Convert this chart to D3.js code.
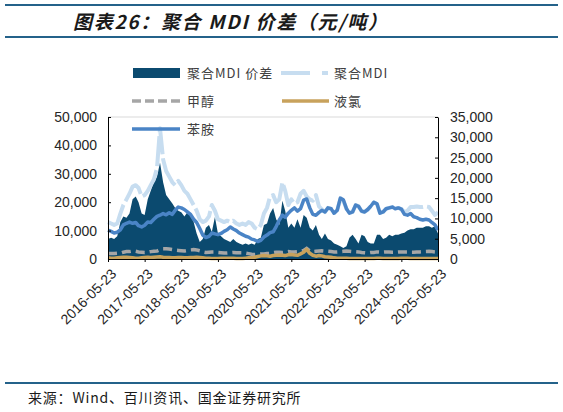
<!DOCTYPE html>
<html>
<head>
<meta charset="utf-8">
<script src="https://cdn.jsdelivr.net/npm/d3@7/dist/d3.min.js"></script>
<style>
  body { margin: 0; background: #fff; }
  svg { display: block; }
</style>
</head>
<body>
<svg id="chart" width="563" height="412"></svg>
<script>
// monthly points, first one 2016-05-23, last one 2025-05-23
var startDate = '2016-05-23';
var tickLabels = ['2016-05-23', '2017-05-23', '2018-05-23', '2019-05-23', '2020-05-23',
  '2021-05-23', '2022-05-23', '2023-05-23', '2024-05-23', '2025-05-23'];

// 聚合MDI价差 (left axis)
var spread = [
  7000, 7500, 7000, 8000, 13000, 15000, 14500, 16000,
  21000, 22000, 20000, 16000, 15500, 21000, 24000, 27000, 29000, 34000, 27000, 22500,
  21000, 19500, 18000, 17000, 16500, 15000, 16500, 15500, 13000, 9000, 6000, 7000,
  11000, 12000, 9500, 14800, 9000, 8000, 7000, 6500, 6000, 7000, 6000, 5500,
  5000, 5500, 5000, 5500, 5000, 7000, 7500, 12000, 12500, 16000, 18000, 14000,
  12000, 20500, 17000, 11000, 12500, 11000, 14000, 11000, 15500, 14500, 11000, 10000,
  12000, 8500, 7000, 9000, 7000, 6500, 5500, 5000, 4500, 3900, 4500, 7500,
  8500, 7000, 5500, 8500, 8000, 6000, 5500, 5500, 8500, 8500, 7000, 7500,
  8500, 8000, 8500, 8500, 9000, 9200, 10000, 10500, 10500, 11000, 11000, 11000,
  11500, 11500, 11000, 11500, 9000
];
// 聚合MDI (left axis)
var mdi = [
  13000, 12500, 12000, 12500, 16000, 19000, 21000, 23000,
  25500, 26000, 25000, 22000, 22500, 24000, 26000, 28000, 32000, 46000, 35000, 31000,
  29000, 27000, 26000, 27500, 26000, 24000, 23000, 21000, 19000, 17000, 14000, 13000,
  13500, 15000, 19000, 17000, 14000, 13500, 13000, 13500, 13000, 13500, 12500, 12000,
  12500, 12000, 13000, 12500, 11000, 10500, 12000, 16000, 18000, 22000, 22500, 20000,
  21000, 27000, 24000, 19000, 21000, 19500, 20000, 23000, 24000, 22000, 21000, 20500,
  22500, 18500, 17500, 16500, 18000, 17700, 16200, 17200, 21000, 20500, 17700, 16200,
  16600, 19000, 18600, 16800, 16600, 17400, 18600, 20000, 19400, 16200, 16600, 17700,
  18000, 18300, 17700, 18000, 17600, 16500, 17000, 18300, 18300, 18500, 18300, 18300,
  18500, 18300, 17000, 15500, 16500
];
// 甲醇 (left axis)
var methanol = [
  1900, 1900, 1900, 2000, 2100, 2400, 2600, 2600,
  2800, 2700, 2500, 2400, 2300, 2400, 2600, 2700, 2800, 3300, 3600, 3600,
  3500, 3300, 3100, 3000, 2900, 2800, 3000, 3200, 3300, 3200, 2900, 2500,
  2300, 2400, 2500, 2500, 2300, 2200, 2100, 2100, 2200, 2300, 2200, 2200,
  2200, 2100, 1900, 1700, 1600, 1700, 1800, 1800, 1900, 2000, 2200, 2400,
  2400, 2300, 2400, 2600, 2500, 2500, 2600, 2800, 3000, 3700, 2900, 2600,
  2700, 2800, 2900, 2800, 2700, 2600, 2500, 2500, 2600, 2700, 2800, 2700,
  2600, 2600, 2500, 2300, 2200, 2100, 2300, 2300, 2500, 2400, 2400, 2500,
  2500, 2400, 2400, 2500, 2500, 2500, 2500, 2400, 2400, 2500, 2500, 2600,
  2600, 2700, 2600, 2500, 2400
];
// 液氯 (left axis)
var chlorine = [
  400, 300, 300, 400, 500, 600, 600, 500,
  400, 300, 300, 400, 500, 600, 500, 600, 700, 800, 600, 500,
  500, 400, 400, 500, 500, 400, 400, 500, 500, 600, 500, 400,
  300, 300, 200, 200, 200, 300, 300, 300, 300, 300, 200, 200,
  200, 300, 400, 400, 600, 900, 1100, 1200, 1100, 1000, 1200, 1300,
  1400, 1300, 1200, 1500, 1600, 1400, 1300, 1800, 2400, 3400, 2000, 1300,
  1000, 1200, 1100, 800, 700, 600, 400, 300, 300, 300, 300, 200,
  200, 200, 200, 200, 200, 200, 200, 200, 300, 300, 200, 200,
  200, 200, 200, 200, 300, 300, 300, 200, 200, 200, 200, 200,
  200, 200, 200, 200, 200
];
// 苯胺 (right axis)
var aniline = [
  7100, 6800, 6400, 6600, 7200, 8400, 8800, 9100,
  8800, 9000, 8200, 7900, 8300, 9100, 9000, 9800, 10500, 10800, 11200, 10900,
  11400, 11000, 12000, 12800, 12600, 12200, 11600, 11000, 9800, 9000, 7500, 5900,
  5300, 5600, 6400, 6200, 6000, 6300, 6800, 7200, 7900, 7400, 7000, 6400,
  6000, 5600, 5400, 4900, 4700, 4300, 4600, 5400, 5900, 6500, 6700, 8000,
  9600, 10800, 10300, 11300, 12000, 12600, 11800, 12400, 14500, 14800, 12600, 11000,
  10800, 11500, 12000, 11600, 12600, 12400, 11300, 12000, 15000, 14600, 12400, 11300,
  11600, 13300, 13000, 11800, 11600, 12200, 13000, 14000, 13600, 11300, 11600, 12400,
  12600, 12800, 12400, 12600, 12300, 11000, 10800, 11200, 10400, 10200, 9800, 9600,
  9800, 9600, 9000, 8400, 7100
];
var leftTicks = [0, 10000, 20000, 30000, 40000, 50000];
var rightTicks = [0, 5000, 10000, 15000, 20000, 25000, 30000, 35000];

var navy = '#0b4a6f', lightBlue = '#c7ddf0', blue = '#4a84c6', grey = '#a6a6a6', tan = '#c8a25c';
var rule = '#24628a';
var numFont = '"Liberation Sans", Arial, sans-serif';
var cjkFont = '"Noto Sans CJK SC", sans-serif';

var svg = d3.select('#chart');
var parse = d3.timeParse('%Y-%m-%d');
var t0 = parse(startDate);
var dates = spread.map(function(d, i) { return d3.timeMonth.offset(t0, i); });

var plotL = 108, plotR = 438, plotT = 117, plotB = 259;

var x = d3.scaleTime()
  .domain([parse(tickLabels[0]), parse(tickLabels[tickLabels.length - 1])])
  .range([plotL, plotR]);
var yL = d3.scaleLinear().domain([0, 50000]).range([plotB, plotT]);
var yR = d3.scaleLinear().domain([0, 35000]).range([plotB, plotT]);

// header / footer rules
svg.append('line').attr('x1', 5).attr('x2', 558).attr('y1', 5).attr('y2', 5)
  .attr('stroke', rule).attr('stroke-width', 2);
svg.append('line').attr('x1', 5).attr('x2', 558).attr('y1', 37).attr('y2', 37)
  .attr('stroke', rule).attr('stroke-width', 2);
svg.append('line').attr('x1', 5).attr('x2', 558).attr('y1', 383).attr('y2', 383)
  .attr('stroke', rule).attr('stroke-width', 2);

svg.append('text')
  .attr('x', 73).attr('y', 29)
  .attr('font-family', cjkFont).attr('font-size', 19).attr('font-weight', 'bold')
  .attr('font-style', 'italic').attr('letter-spacing', 1.7).attr('fill', '#1a1a1a')
  .text('图表26：聚合 MDI 价差（元/吨）');

svg.append('text')
  .attr('x', 28).attr('y', 403)
  .attr('font-family', cjkFont).attr('font-size', 14).attr('letter-spacing', 0.8)
  .attr('fill', '#1a1a1a')
  .text('来源：Wind、百川资讯、国金证券研究所');

// top border of plot
svg.append('line').attr('x1', plotL).attr('x2', plotR).attr('y1', plotT).attr('y2', plotT)
  .attr('stroke', '#d9d9d9').attr('stroke-width', 1);

// series
var area = d3.area()
  .x(function(d, i) { return x(dates[i]); })
  .y0(yL(0))
  .y1(function(d) { return yL(d); });

svg.append('path').datum(spread)
  .attr('d', area).attr('fill', navy);

function lineOn(scale) {
  return d3.line()
    .x(function(d, i) { return x(dates[i]); })
    .y(function(d) { return scale(d); });
}

svg.append('path').datum(mdi)
  .attr('d', lineOn(yL)).attr('fill', 'none')
  .attr('stroke', lightBlue).attr('stroke-width', 4)
  .attr('stroke-dasharray', '30,4').attr('stroke-linejoin', 'round');

svg.append('path').datum(methanol)
  .attr('d', lineOn(yL)).attr('fill', 'none')
  .attr('stroke', grey).attr('stroke-width', 3.5)
  .attr('stroke-dasharray', '9,5');

svg.append('path').datum(chlorine)
  .attr('d', lineOn(yL)).attr('fill', 'none')
  .attr('stroke', tan).attr('stroke-width', 3.5).attr('stroke-linejoin', 'round');

svg.append('path').datum(aniline)
  .attr('d', lineOn(yR)).attr('fill', 'none')
  .attr('stroke', blue).attr('stroke-width', 3.5).attr('stroke-linejoin', 'round');

// axes
var axL = svg.append('g').attr('transform', 'translate(' + plotL + ',0)')
  .call(d3.axisLeft(yL).tickValues(leftTicks).tickSize(-3).tickPadding(11)
    .tickSizeOuter(0).tickFormat(d3.format(',')));
var axR = svg.append('g').attr('transform', 'translate(' + plotR + ',0)')
  .call(d3.axisRight(yR).tickValues(rightTicks).tickSize(-3).tickPadding(12)
    .tickSizeOuter(0).tickFormat(d3.format(',')));
var axB = svg.append('g').attr('transform', 'translate(0,' + plotB + ')')
  .call(d3.axisBottom(x).tickValues(tickLabels.map(parse)).tickSize(3)
    .tickSizeOuter(0).tickFormat(d3.timeFormat('%Y-%m-%d')));

[axL, axR, axB].forEach(function(g) {
  g.select('.domain').attr('stroke', '#000').attr('stroke-width', 1);
  g.selectAll('.tick line').attr('stroke', '#000');
  g.selectAll('text').attr('font-family', numFont).attr('font-size', 14).attr('fill', '#262626');
});

axB.selectAll('text')
  .attr('text-anchor', 'end')
  .attr('dy', '0.35em')
  .attr('transform', 'translate(1,8) rotate(-45)');

// legend
var lg = svg.append('g').attr('font-family', cjkFont).attr('font-size', 13)
  .attr('letter-spacing', 1).attr('fill', '#404040');

lg.append('rect').attr('x', 133).attr('y', 68).attr('width', 47).attr('height', 10).attr('fill', navy);
lg.append('text').attr('x', 187).attr('y', 78).text('聚合MDI 价差');

lg.append('line').attr('x1', 281).attr('x2', 328).attr('y1', 73).attr('y2', 73)
  .attr('stroke', lightBlue).attr('stroke-width', 4).attr('stroke-dasharray', '29,12');
lg.append('text').attr('x', 334).attr('y', 78).text('聚合MDI');

lg.append('line').attr('x1', 132).attr('x2', 180).attr('y1', 101).attr('y2', 101)
  .attr('stroke', grey).attr('stroke-width', 3.5).attr('stroke-dasharray', '9,4');
lg.append('text').attr('x', 187).attr('y', 106).text('甲醇');

lg.append('line').attr('x1', 282).attr('x2', 329).attr('y1', 101).attr('y2', 101)
  .attr('stroke', tan).attr('stroke-width', 3.5);
lg.append('text').attr('x', 334).attr('y', 106).text('液氯');

lg.append('line').attr('x1', 132).attr('x2', 180).attr('y1', 129).attr('y2', 129)
  .attr('stroke', blue).attr('stroke-width', 3.5);
lg.append('text').attr('x', 187).attr('y', 134).text('苯胺');
</script>
</body>
</html>
